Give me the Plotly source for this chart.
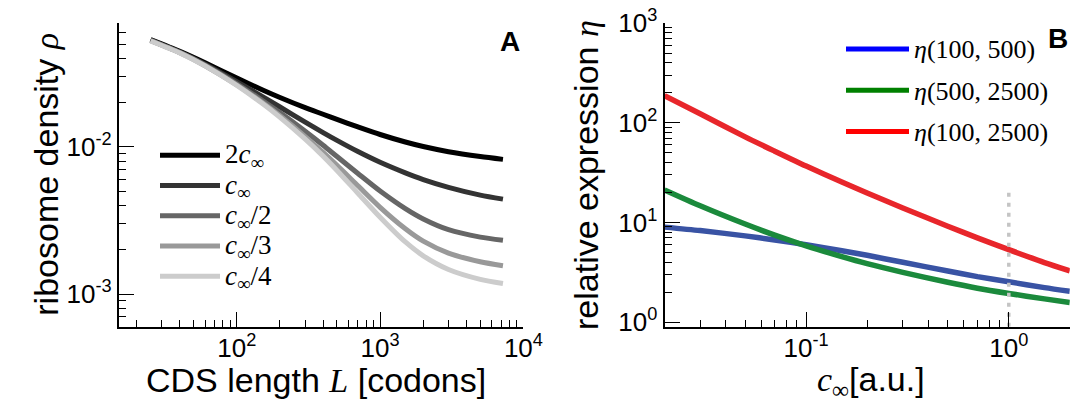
import plotly.graph_objects as go
import numpy as np

# ---------------- data ----------------
L_codons = [25, 40, 60, 100, 150, 200, 300, 400, 500, 700, 1000, 1500, 2000, 3000, 5000, 7200]
rho_2cinf = [0.0537, 0.0447, 0.0374, 0.0294, 0.0245, 0.0217, 0.0185, 0.0167, 0.0154, 0.0137,
             0.01216, 0.01081, 0.01007, 0.00929, 0.00861, 0.00824]
rho_cinf = [0.0533, 0.0442, 0.0365, 0.0278, 0.0221, 0.0187, 0.01476, 0.01253, 0.01109, 0.00931,
            0.00787, 0.00667, 0.00601, 0.00532, 0.00471, 0.00442]
rho_cinf_2 = [0.0531, 0.0440, 0.0361, 0.0269, 0.0208, 0.01714, 0.01279, 0.01028, 0.00861, 0.00661,
              0.00502, 0.00381, 0.00324, 0.00274, 0.00244, 0.00232]
rho_cinf_3 = [0.0528, 0.0438, 0.0357, 0.0264, 0.0201, 0.0163, 0.01178, 0.00918, 0.00750, 0.00545,
              0.00389, 0.00278, 0.00229, 0.00190, 0.00166, 0.00156]
rho_cinf_4 = [0.0526, 0.0436, 0.0356, 0.0262, 0.0198, 0.0159, 0.01130, 0.00867, 0.00693, 0.00485,
              0.00333, 0.00226, 0.00182, 0.00147, 0.00126, 0.00118]
left_names = ["2<i>c</i><sub>∞</sub>", "<i>c</i><sub>∞</sub>", "<i>c</i><sub>∞</sub>/2",
              "<i>c</i><sub>∞</sub>/3", "<i>c</i><sub>∞</sub>/4"]

c_inf = [0.02, 0.03, 0.05, 0.07, 0.1, 0.15, 0.2, 0.3, 0.5, 0.7, 1.0, 1.5, 2.0]
eta_100_500 = [8.97, 8.28, 7.33, 6.67, 5.97, 5.20, 4.68, 3.98, 3.26, 2.86, 2.54, 2.22, 2.04]
eta_500_2500 = [21.2, 14.7, 9.64, 7.46, 5.83, 4.54, 3.86, 3.16, 2.51, 2.19, 1.94, 1.71, 1.57]
eta_100_2500 = [187, 123, 72.1, 51.8, 36.7, 25.4, 19.7, 13.96, 9.16, 7.00, 5.33, 3.96, 3.27]
right_names = ["<i>η</i>(100, 500)", "<i>η</i>(500, 2500)", "<i>η</i>(100, 2500)"]

ref_c = [1.0, 1.0]
ref_eta = [0.9, 20]

left_xticks = [100, 1000, 10000]
left_xtext = ["10<sup>2</sup>", "10<sup>3</sup>", "10<sup>4</sup>"]
left_yticks = [0.001, 0.01]
left_ytext = ["10<sup>-3</sup>", "10<sup>-2</sup>"]
right_xticks = [0.1, 1]
right_xtext = ["10<sup>-1</sup>", "10<sup>0</sup>"]
right_yticks = [1, 10, 100, 1000]
right_ytext = ["10<sup>0</sup>", "10<sup>1</sup>", "10<sup>2</sup>", "10<sup>3</sup>"]

# ---------------- styling ----------------
W, H = 1084, 406
SANS = "Liberation Sans, Arial, Helvetica, sans-serif"
SERIF = "Liberation Serif, Times New Roman, serif"
grey_cols = ["#000000", "#333333", "#666666", "#999999", "#cccccc"]
curve_cols = ["#3953a4", "#1b8a3c", "#e8262b"]
legend_cols = ["#0000ff", "#008000", "#ff0000"]


def minor_vals(lo_dec, hi_dec):
    out = []
    for d in range(lo_dec, hi_dec):
        for k in range(2, 10):
            out.append(k * 10.0 ** d)
    return out


def big(txt, px):
    return f"<span style='font-size:{px}px'>{txt}</span>"


fig = go.Figure()

left_series = [rho_2cinf, rho_cinf, rho_cinf_2, rho_cinf_3, rho_cinf_4]
for name, ys, col in zip(left_names, left_series, grey_cols):
    fig.add_trace(go.Scatter(x=L_codons, y=ys, mode="lines", name=big(name, 27),
                             line=dict(color=col, width=5, shape="spline", smoothing=0.7),
                             xaxis="x", yaxis="y", legend="legend"))

right_series = [eta_100_500, eta_500_2500, eta_100_2500]
for name, ys, col in zip(right_names, right_series, curve_cols):
    fig.add_trace(go.Scatter(x=c_inf, y=ys, mode="lines", name=name, showlegend=False,
                             line=dict(color=col, width=5.5, shape="spline", smoothing=0.7),
                             xaxis="x2", yaxis="y2"))
fig.add_trace(go.Scatter(x=ref_c, y=ref_eta, mode="lines", showlegend=False,
                         line=dict(color="#c4c4c4", width=3.5, dash="4px,6px"),
                         xaxis="x2", yaxis="y2"))
# legend keys (drawn in pure colours in the reference)
for i, (name, col) in enumerate(zip(right_names, legend_cols)):
    fig.add_trace(go.Scatter(x=[None], y=[None], mode="lines", name=big(name, 26),
                             line=dict(color=col, width=5), legendgroup=f"g{i}",
                             xaxis="x2", yaxis="y2", legend="legend2"))

axis_common = dict(type="log", showgrid=False, zeroline=False, showline=True,
                   linecolor="black", linewidth=2, ticks="inside", ticklen=15,
                   tickwidth=1.3, tickcolor="black", mirror=False, automargin=False,
                   tickfont=dict(family=SANS, size=26, color="black"),
                   tickmode="array")
minor_common = dict(ticks="inside", ticklen=7, tickwidth=1, tickcolor="black", showgrid=False)

fig.update_layout(
    width=W, height=H, margin=dict(l=0, r=0, t=0, b=0),
    paper_bgcolor="white", plot_bgcolor="white",
    xaxis=dict(**axis_common, domain=[118.8 / W, 523.4 / W],
               range=[np.log10(15), 4], tickvals=left_xticks, ticktext=left_xtext,
               anchor="y", ticklabelstandoff=-3,
               minor=dict(**minor_common, tickvals=minor_vals(1, 4))),
    yaxis=dict(**axis_common, domain=[(H - 326.7) / H, (H - 22.7) / H],
               range=[np.log10(6e-4), np.log10(0.07)], tickvals=left_yticks,
               ticktext=left_ytext, anchor="x",
               minor=dict(**minor_common, tickvals=minor_vals(-4, -1))),
    xaxis2=dict(**axis_common, domain=[664.5 / W, 1069.8 / W],
                range=[np.log10(0.02), np.log10(2)], tickvals=right_xticks,
                ticktext=right_xtext, anchor="y2", ticklabelstandoff=-3,
                minor=dict(**minor_common, tickvals=minor_vals(-2, 1))),
    yaxis2=dict(**axis_common, domain=[(H - 326.7) / H, (H - 23) / H],
                range=[np.log10(0.9), 3], tickvals=right_yticks, ticktext=right_ytext,
                anchor="x2", minor=dict(**minor_common, tickvals=minor_vals(0, 3))),
    legend=dict(x=155 / W, y=(H - 135) / H, xanchor="left", yanchor="top",
                bgcolor="rgba(0,0,0,0)", itemwidth=60,
                font=dict(family=SERIF, size=21, color="black")),
    legend2=dict(x=841 / W, y=(H - 27) / H, xanchor="left", yanchor="top",
                 bgcolor="rgba(0,0,0,0)", itemwidth=63, tracegroupgap=7,
                 font=dict(family=SERIF, size=24, color="black")),
    showlegend=True,
)

ann = [
    dict(text="ribosome density <span style='font-family:Liberation Serif'><i>ρ</i></span>",
         x=46 / W, y=(H - 174.7) / H, textangle=-90, font=dict(family=SANS, size=34)),
    dict(text="CDS length <span style='font-family:Liberation Serif'><i>L</i></span> [codons]",
         x=316 / W, y=(H - 380) / H, font=dict(family=SANS, size=34)),
    dict(text="relative expression <span style='font-family:Liberation Serif'><i>η</i></span>",
         x=586 / W, y=(H - 175) / H, textangle=-90, font=dict(family=SANS, size=34)),
    dict(text="<span style='font-family:Liberation Serif'><i>c</i><sub>∞</sub></span>[a.u.]",
         x=871 / W, y=(H - 381) / H, font=dict(family=SANS, size=34)),
    dict(text="<b>A</b>", x=510 / W, y=(H - 42) / H, font=dict(family=SANS, size=28)),
    dict(text="<b>B</b>", x=1058 / W, y=(H - 38) / H, font=dict(family=SANS, size=28)),
]
for a in ann:
    a.update(xref="paper", yref="paper", showarrow=False, xanchor="center",
             yanchor="middle")
    a["font"]["color"] = "black"
fig.update_layout(annotations=ann)

fig.write_html("out.html", config={"displayModeBar": False})
with open("out.html", encoding="utf-8") as f:
    html = f.read()
html = html.replace("<head>", "<head><style>html,body{margin:0;padding:0;overflow:hidden;}</style>", 1)
with open("out.html", "w", encoding="utf-8") as f:
    f.write(html)
